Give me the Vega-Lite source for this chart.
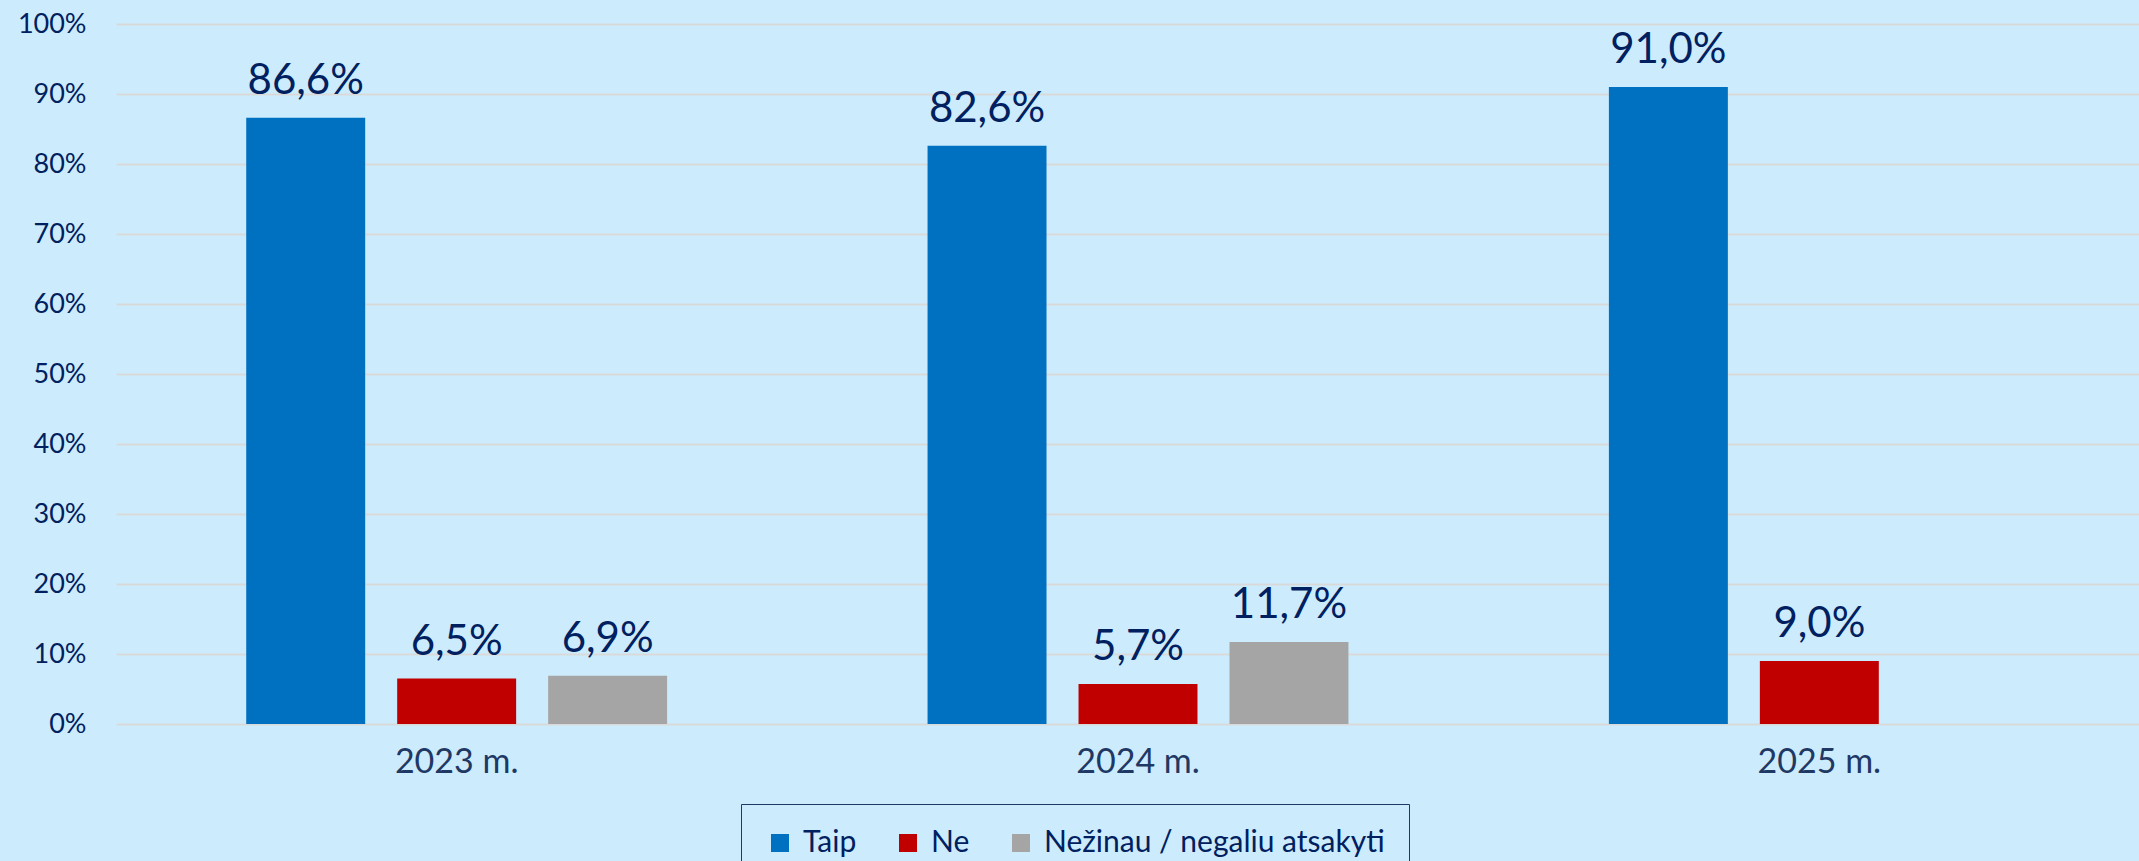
{
  "$schema": "https://vega.github.io/schema/vega-lite/v6.json",
  "width": 2044,
  "height": 700,
  "autosize": {"type": "none"},
  "padding": {"left": 116, "top": 24, "right": -21, "bottom": 137},
  "background": "#CCECFD",
  "config": {
    "view": {"stroke": null},
    "font": "Lato"
  },
  "data": {
    "values": [
      {"metai": "2023 m.", "atsakymas": "Taip", "dalis": 0.866},
      {"metai": "2023 m.", "atsakymas": "Ne", "dalis": 0.065},
      {"metai": "2023 m.", "atsakymas": "Nežinau / negaliu atsakyti", "dalis": 0.069},
      {"metai": "2024 m.", "atsakymas": "Taip", "dalis": 0.826},
      {"metai": "2024 m.", "atsakymas": "Ne", "dalis": 0.057},
      {"metai": "2024 m.", "atsakymas": "Nežinau / negaliu atsakyti", "dalis": 0.117},
      {"metai": "2025 m.", "atsakymas": "Taip", "dalis": 0.910},
      {"metai": "2025 m.", "atsakymas": "Ne", "dalis": 0.090}
    ]
  },
  "encoding": {
    "x": {
      "field": "metai",
      "type": "nominal",
      "scale": {"paddingInner": 0, "paddingOuter": 0},
      "axis": {
        "title": null,
        "labelAngle": 0,
        "ticks": false,
        "domain": false,
        "grid": false,
        "labelFont": "Lato",
        "labelFontSize": 34,
        "labelColor": "#1F3864",
        "labelPadding": 21
      }
    },
    "xOffset": {
      "field": "atsakymas",
      "type": "nominal",
      "scale": {"domain": ["Taip", "Ne", "Nežinau / negaliu atsakyti"], "paddingInner": 0.212, "paddingOuter": 0.8626}
    },
    "y": {
      "field": "dalis",
      "type": "quantitative",
      "scale": {"domain": [0, 1], "nice": false},
      "axis": {
        "title": null,
        "format": ".0%",
        "values": [0, 0.1, 0.2, 0.3, 0.4, 0.5, 0.6, 0.7, 0.8, 0.9, 1],
        "ticks": false,
        "domain": false,
        "gridColor": "#D9D9D9",
        "gridWidth": 2,
        "labelFont": "Lato",
        "labelFontSize": 27,
        "labelColor": "#002060",
        "labelPadding": 30
      }
    }
  },
  "layer": [
    {
      "mark": {"type": "bar"},
      "encoding": {
        "color": {
          "field": "atsakymas",
          "type": "nominal",
          "scale": {
            "domain": ["Taip", "Ne", "Nežinau / negaliu atsakyti"],
            "range": ["#0070C0", "#C00000", "#A5A5A5"]
          },
          "legend": {
            "title": null,
            "orient": "none",
            "direction": "horizontal",
            "legendX": 625,
            "legendY": 780,
            "padding": 24,
            "strokeColor": "#1F3864",
            "symbolType": "square",
            "symbolSize": 324,
            "symbolStrokeWidth": 0,
            "symbolOpacity": 1,
            "labelFont": "Lato",
            "labelFontSize": 30,
            "labelColor": "#002060",
            "labelOffset": 8,
            "columnPadding": 36,
            "labelLimit": 600
          }
        }
      }
    },
    {
      "mark": {"type": "text", "baseline": "alphabetic", "dy": -24, "font": "Lato", "fontSize": 42, "color": "#002060"},
      "encoding": {
        "text": {"value": {"expr": "replace(format(datum.dalis, '.1%'), '.', ',')"}}
      }
    }
  ]
}
